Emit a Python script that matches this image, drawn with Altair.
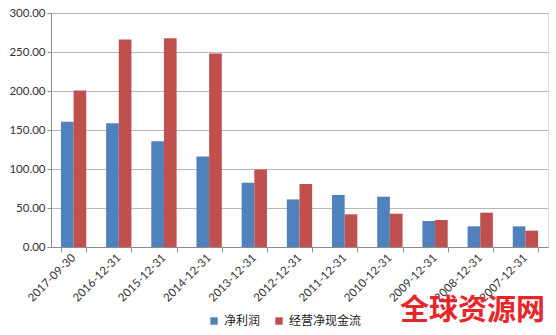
import altair as alt
import pandas as pd

categories = ["2017-09-30", "2016-12-31", "2015-12-31", "2014-12-31", "2013-12-31",
              "2012-12-31", "2011-12-31", "2010-12-31", "2009-12-31", "2008-12-31", "2007-12-31"]
net_profit = [160.5, 158.5, 135.5, 116.0, 82.5, 61.0, 66.7, 64.5, 33.3, 26.5, 26.5]
op_cash = [200.5, 266.0, 267.5, 248.0, 99.5, 80.8, 41.9, 42.7, 34.6, 44.0, 21.0]
series = ["净利润", "经营净现金流"]
colors = ["#4F81BD", "#C0504D"]

rows = []
for c, a, b in zip(categories, net_profit, op_cash):
    rows.append({"date": c, "series": series[0], "value": a})
    rows.append({"date": c, "series": series[1], "value": b})
df = pd.DataFrame(rows)

num_font = "Lato"
cjk_font = "Noto Sans CJK SC"

bars = alt.Chart(df).mark_bar().encode(
    x=alt.X("date:N", sort=categories, title=None,
            scale=alt.Scale(paddingInner=0.44, paddingOuter=0.22),
            axis=alt.Axis(labelAngle=-45, labelAlign="right", labelBaseline="middle",
                          labelFont=num_font, labelFontSize=11.5, labelColor="#333",
                          domainColor="#8C8C8C", tickColor="#8C8C8C", tickSize=5,
                          tickBand="extent", labelPadding=4, grid=False)),
    xOffset=alt.XOffset("series:N", sort=series),
    y=alt.Y("value:Q", title=None,
            scale=alt.Scale(domain=[0, 300], nice=False),
            axis=alt.Axis(values=[0, 50, 100, 150, 200, 250, 300], format=".2f",
                          labelFont=num_font, labelFontSize=11.5, labelColor="#333",
                          domainColor="#8C8C8C", tickColor="#8C8C8C", tickSize=4,
                          labelPadding=2, gridColor="#B8B8B8", gridWidth=1.2)),
    color=alt.Color("series:N", sort=series, title=None,
                    scale=alt.Scale(domain=series, range=colors),
                    legend=alt.Legend(orient="none", direction="horizontal",
                                      legendX=157, legendY=302,
                                      symbolType="square", symbolSize=55,
                                      symbolStrokeWidth=0,
                                      labelFont=cjk_font, labelFontSize=12,
                                      labelColor="#222", columnPadding=12,
                                      labelOffset=4)),
)

wm = alt.Chart(pd.DataFrame({"t": ["全球资源网"]})).mark_text(
    font=cjk_font, fontSize=29, fontWeight="bold", color="#E8262A",
    align="right", baseline="middle"
).encode(text="t:N", x=alt.value(494), y=alt.value(298))

chart = alt.layer(bars, wm).properties(
    width=497, height=234,
    autosize=alt.AutoSizeParams(type="none"),
    padding={"left": 51, "top": 13, "right": 8, "bottom": 88},
).configure_view(stroke=None).configure(background="white")

chart.save("out.html", embed_options={"renderer": "svg", "actions": False})
